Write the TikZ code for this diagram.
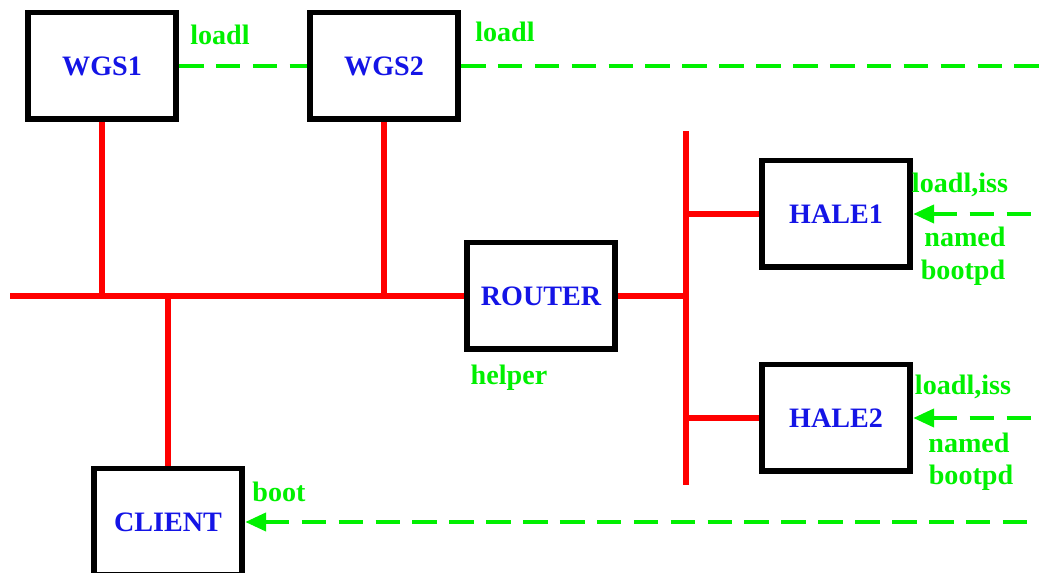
\documentclass[tikz,border=0pt]{standalone}
\usepackage{fontspec}
\setmainfont{Liberation Serif}
\usetikzlibrary{arrows.meta}

\definecolor{lanred}{RGB}{255,0,0}
\definecolor{svcgreen}{RGB}{0,240,0}
\definecolor{hostblue}{RGB}{20,20,230}

\begin{document}
\begin{tikzpicture}[x=0.02cm, y=-0.02cm,
    host/.style={draw=black, line width=3.4pt, fill=white,
        minimum width=2.96cm, minimum height=2.14cm,
        text=hostblue, font=\fontsize{16}{18}\selectfont\bfseries},
    svc/.style={text=svcgreen, font=\fontsize{16}{18}\selectfont\bfseries},
    lan/.style={draw=lanred, line width=3.4pt},
    link/.style={draw=svcgreen, line width=2.8pt, dash pattern=on 14pt off 7pt},
    feed/.style={link, {Triangle[length=12pt, width=10pt]}-}
]
    \useasboundingbox (0,0) rectangle (1039,573);

    % hosts
    \node[host] (WGS1) at (102, 66) {WGS1};
    \node[host] (WGS2) at (384, 66) {WGS2};
    \node[host] (ROUTER) at (541, 296) {ROUTER};
    \node[host] (HALE1) at (836, 214) {HALE1};
    \node[host] (HALE2) at (836, 418) {HALE2};
    \node[host] (CLIENT) at (168, 522) {CLIENT};

    % ends of the wires
    \coordinate (busL) at (10, 296);
    \coordinate (hubT) at (686, 131);
    \coordinate (hubB) at (686, 485);
    \coordinate (farR) at (1045, 0);

    % red network
    \path[lan] (busL) -- (ROUTER.west);
    \path[lan] (WGS1.south) -- (WGS1.south |- busL);
    \path[lan] (WGS2.south) -- (WGS2.south |- busL);
    \path[lan] (CLIENT.north) -- (CLIENT.north |- busL);
    \path[lan] (hubT) -- (hubB);
    \path[lan] (ROUTER.east) -- (ROUTER.east -| hubT);
    \path[lan] (HALE1.west) -- (HALE1.west -| hubT);
    \path[lan] (HALE2.west) -- (HALE2.west -| hubT);

    % green services
    \path[link] (WGS1.east) -- (WGS2.west);
    \path[link] (WGS2.east) -- (WGS2.east -| farR);
    \path[feed] (HALE1.east) -- (HALE1.east -| farR);
    \path[feed] (HALE2.east) -- (HALE2.east -| farR);
    \path[feed] (CLIENT.east) -- (CLIENT.east -| farR);

    \node[svc] (lWGS1) at (220, 35) {loadl};
    \node[svc] (lWGS2) at (505, 32) {loadl};
    \node[svc] (lRouter) at (509, 378) {helper};
    \node[svc] (lClient) at (279, 492) {boot};
    \node[svc] (lH1a) at (960, 185) {loadl,iss};
    \node[svc] (lH1b) at (965, 237) {named};
    \node[svc] (lH1c) at (963, 273) {bootpd};
    \node[svc] (lH2a) at (963, 387) {loadl,iss};
    \node[svc] (lH2b) at (969, 443) {named};
    \node[svc] (lH2c) at (971, 478) {bootpd};
\end{tikzpicture}
\end{document}
